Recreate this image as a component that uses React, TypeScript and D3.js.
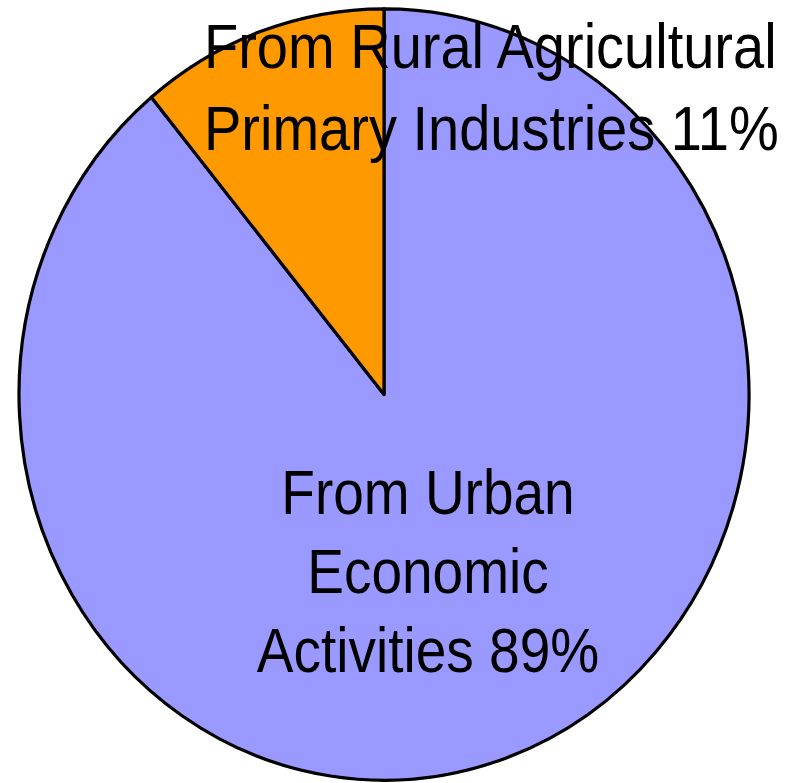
import React from "react";
import * as d3 from "d3";

const categories = ["From Urban Economic Activities", "From Rural Agricultural Primary Industries"];
const values = [89, 11];
const colors = ["#9999FF", "#FF9900"];
const urbanLabel = ["From Urban", "Economic", "Activities 89%"];
const ruralLabel = ["From Rural Agricultural", "Primary Industries 11%"];

const W = 806;
const H = 783;
const cx = 384;
const cy = 394.5;
const R = 365;
const sy = 1.0567;
const textSy = 1.13;

export default function App() {
  const pie = d3.pie<number>().sort(null).value((d) => d);
  const arcs = pie(values);
  const arcGen = d3.arc<d3.PieArcDatum<number>>().innerRadius(0).outerRadius(R);

  return (
    <svg
      width={W}
      height={H}
      style={{ position: "absolute", left: 0, top: 0, display: "block" }}
      fontFamily="'Liberation Sans', Arial, sans-serif"
    >
      <rect width={W} height={H} fill="#fff" />
      <g transform={`translate(${cx},${cy}) scale(1,${sy})`}>
        {arcs.map((a, i) => (
          <path
            key={categories[i]}
            d={arcGen(a) || ""}
            fill={colors[i]}
            stroke="#000"
            strokeWidth={3.2}
            strokeLinejoin="round"
            vectorEffect="non-scaling-stroke"
          />
        ))}
      </g>
      <g transform={`translate(428,514) scale(1,${textSy})`}>
        {urbanLabel.map((t, i) => (
          <text key={t} x={0} y={(i * 79) / textSy} textAnchor="middle" fontSize={55} fill="#000">
            {t}
          </text>
        ))}
      </g>
      <g transform={`translate(204,68) scale(1,${textSy})`}>
        {ruralLabel.map((t, i) => (
          <text key={t} x={0} y={(i * 82) / textSy} textAnchor="start" fontSize={56} fill="#000">
            {t}
          </text>
        ))}
      </g>
    </svg>
  );
}
